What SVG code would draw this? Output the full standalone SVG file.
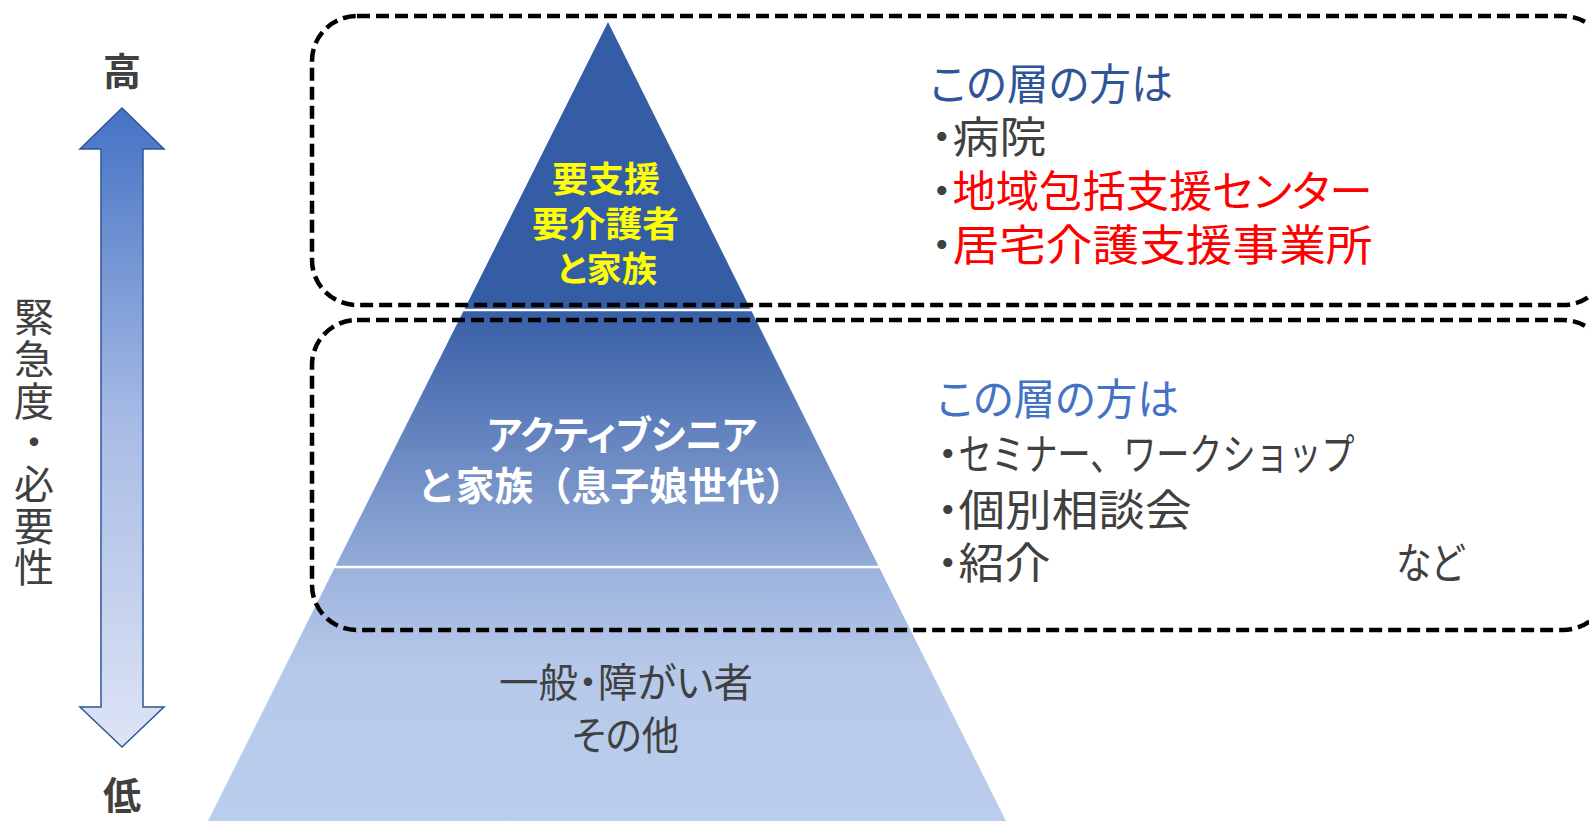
<svg xmlns="http://www.w3.org/2000/svg" width="1589" height="821" viewBox="0 0 1589 821">
  <style>
    text { font-family: "Noto Sans CJK JP", "Noto Sans", sans-serif; font-feature-settings: "palt"; }
    .gray { fill: #404040; }
    .bold { font-weight: bold; }
    .dash { fill: none; stroke: #000000; stroke-width: 4.5; stroke-dasharray: 13 6; }
    .sep { stroke: #FFFFFF; stroke-width: 2.5; }
    .r { font-size: 43px; }
    .red { fill: #FF0000; }
    .nopalt { font-feature-settings: normal; }
  </style>
  <defs>
    <linearGradient id="gArrow" gradientUnits="userSpaceOnUse" x1="0" y1="108" x2="0" y2="747">
      <stop offset="0" stop-color="#4472C4"/>
      <stop offset="0.5" stop-color="#A9BCE5"/>
      <stop offset="1" stop-color="#DDE4F5"/>
    </linearGradient>
    <linearGradient id="gMid" gradientUnits="userSpaceOnUse" x1="0" y1="311" x2="0" y2="567">
      <stop offset="0" stop-color="#385FA7"/>
      <stop offset="1" stop-color="#93ABD8"/>
    </linearGradient>
    <linearGradient id="gLow" gradientUnits="userSpaceOnUse" x1="0" y1="568" x2="0" y2="821">
      <stop offset="0" stop-color="#9CB2DD"/>
      <stop offset="0.4" stop-color="#B6C9EA"/>
      <stop offset="1" stop-color="#BACDEC"/>
    </linearGradient>
  </defs>

  <rect x="0" y="0" width="1589" height="821" fill="#FFFFFF"/>

  <!-- Pyramid layers -->
  <g id="pyramid-bottom">
    <polygon points="335,567 879,567 1006,821 208,821" fill="url(#gLow)"/>
    <text class="gray" font-size="40">
      <tspan x="499" y="697" textLength="254" lengthAdjust="spacingAndGlyphs">一般・障がい者</tspan>
      <tspan x="572" y="750" textLength="107" lengthAdjust="spacingAndGlyphs">その他</tspan>
    </text>
  </g>
  <g id="pyramid-mid">
    <polygon points="464,310 751,310 879,567 335,567" fill="url(#gMid)"/>
    <text class="bold" fill="#FFFFFF" font-size="39">
      <tspan x="487" y="449" textLength="270" lengthAdjust="spacingAndGlyphs">アクティブシニア</tspan>
      <tspan class="nopalt" x="417" y="500" textLength="387" lengthAdjust="spacingAndGlyphs">と家族（息子娘世代）</tspan>
    </text>
  </g>
  <g id="pyramid-top">
    <polygon points="608,22 751,310 464,310" fill="#355DA5"/>
    <text class="bold" fill="#FFFF00" font-size="35">
      <tspan x="552" y="192" textLength="108" lengthAdjust="spacingAndGlyphs">要支援</tspan>
      <tspan x="532" y="237" textLength="147" lengthAdjust="spacingAndGlyphs">要介護者</tspan>
      <tspan x="557" y="282" textLength="100" lengthAdjust="spacingAndGlyphs">と家族</tspan>
    </text>
  </g>
  <g id="separators">
    <line class="sep" x1="462" y1="310" x2="753" y2="310"/>
    <line class="sep" x1="333" y1="567" x2="881" y2="567"/>
  </g>

  <!-- Dashed boxes -->
  <g id="box-top">
    <rect class="dash" x="312" y="16" width="1296" height="289" rx="45" ry="45"/>
    <text class="r">
      <tspan x="930" y="100" fill="#2F5597" textLength="243" lengthAdjust="spacingAndGlyphs">この層の方は</tspan>
      <tspan class="gray" x="931" y="153">・</tspan><tspan class="gray" textLength="94" lengthAdjust="spacingAndGlyphs">病院</tspan>
      <tspan class="gray" x="931" y="207">・</tspan><tspan class="red" textLength="420" lengthAdjust="spacingAndGlyphs">地域包括支援センター</tspan>
      <tspan class="gray" x="931" y="261">・</tspan><tspan class="red" textLength="420" lengthAdjust="spacingAndGlyphs">居宅介護支援事業所</tspan>
    </text>
  </g>
  <g id="box-mid">
    <rect class="dash" x="312" y="320" width="1296" height="310" rx="45" ry="45"/>
    <text class="r gray">
      <tspan x="937" y="415" fill="#4472C4" textLength="242" lengthAdjust="spacingAndGlyphs">この層の方は</tspan>
      <tspan x="937" y="470">・</tspan><tspan class="nopalt" textLength="396" lengthAdjust="spacingAndGlyphs">セミナー、ワークショップ</tspan>
      <tspan x="937" y="526">・</tspan><tspan textLength="233" lengthAdjust="spacingAndGlyphs">個別相談会</tspan>
      <tspan x="937" y="579">・</tspan><tspan textLength="92" lengthAdjust="spacingAndGlyphs">紹介</tspan>
      <tspan x="1396" y="579" textLength="68" lengthAdjust="spacingAndGlyphs">など</tspan>
    </text>
  </g>

  <!-- Axis -->
  <g id="connectors">
    <path d="M122,108 L164,149 L143,149 L143,707 L164,707 L122,747 L80,707 L101,707 L101,149 L80,149 Z" fill="url(#gArrow)" stroke="#2F5597" stroke-width="1.5" stroke-linejoin="miter"/>
  </g>
  <g id="axis-high">
    <text class="gray bold" x="122" y="85" font-size="38" text-anchor="middle">高</text>
  </g>
  <g id="axis-low">
    <text class="gray bold" x="122" y="809" font-size="38" text-anchor="middle">低</text>
  </g>
  <g id="axis-label">
    <text class="gray nopalt" x="34" y="297" font-size="40" writing-mode="vertical-rl" letter-spacing="1.7">緊急度・必要性</text>
  </g>
</svg>
